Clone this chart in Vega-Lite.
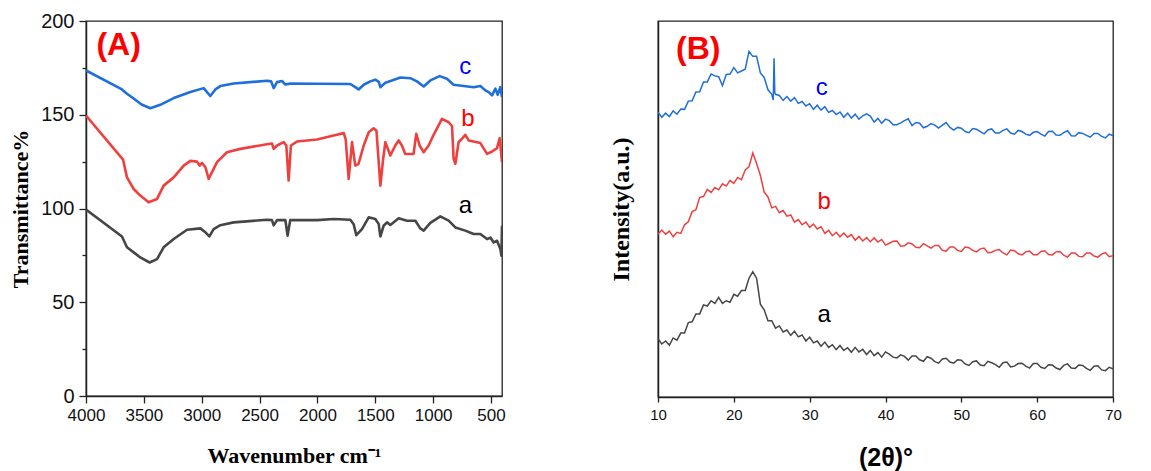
{
  "$schema": "https://vega.github.io/schema/vega-lite/v6.json",
  "background": "white",
  "padding": {"left": 8, "top": 10, "right": 5, "bottom": 5},
  "spacing": 102,
  "config": {
    "view": {"stroke": "#222", "strokeWidth": 1.3},
    "axis": {"grid": false, "domainColor": "#222", "domainWidth": 1.5, "tickColor": "#222", "tickWidth": 1.3, "labelColor": "#111", "titleColor": "#000", "labelOverlap": false, "labelFlush": false}
  },
  "datasets": {
    "ftir": [
      {"w":4000,"s":"c","T":173.6},{"w":3689,"s":"c","T":163.5},{"w":3646,"s":"c","T":161.2},{"w":3600,"s":"c","T":159.2},{"w":3520,"s":"c","T":155.5},{"w":3444,"s":"c","T":153.5},{"w":3358,"s":"c","T":155.3},{"w":3242,"s":"c","T":158.9},{"w":3098,"s":"c","T":162.1},{"w":2983,"s":"c","T":164.2},{"w":2926,"s":"c","T":160.0},{"w":2882,"s":"c","T":163.5},{"w":2839,"s":"c","T":165.3},{"w":2724,"s":"c","T":166.7},{"w":2436,"s":"c","T":168.1},{"w":2400,"s":"c","T":167.8},{"w":2378,"s":"c","T":164.2},{"w":2349,"s":"c","T":167.4},{"w":2306,"s":"c","T":168.0},{"w":2277,"s":"c","T":166.1},{"w":2235,"s":"c","T":166.6},{"w":2004,"s":"c","T":166.5},{"w":1716,"s":"c","T":166.4},{"w":1673,"s":"c","T":164.7},{"w":1644,"s":"c","T":163.5},{"w":1600,"s":"c","T":166.0},{"w":1543,"s":"c","T":167.8},{"w":1500,"s":"c","T":168.7},{"w":1470,"s":"c","T":167.5},{"w":1456,"s":"c","T":164.7},{"w":1413,"s":"c","T":167.1},{"w":1356,"s":"c","T":168.3},{"w":1284,"s":"c","T":169.9},{"w":1197,"s":"c","T":169.5},{"w":1140,"s":"c","T":167.8},{"w":1082,"s":"c","T":165.1},{"w":1024,"s":"c","T":168.3},{"w":944,"s":"c","T":170.6},{"w":881,"s":"c","T":169.2},{"w":823,"s":"c","T":166.0},{"w":736,"s":"c","T":165.3},{"w":650,"s":"c","T":164.7},{"w":592,"s":"c","T":165.3},{"w":549,"s":"c","T":163.0},{"w":520,"s":"c","T":162.1},{"w":491,"s":"c","T":160.3},{"w":462,"s":"c","T":163.9},{"w":442,"s":"c","T":160.7},{"w":419,"s":"c","T":164.7},{"w":405,"s":"c","T":159.4},
      {"w":4000,"s":"b","T":149.6},{"w":3680,"s":"b","T":126.1},{"w":3646,"s":"b","T":116.6},{"w":3588,"s":"b","T":110.4},{"w":3531,"s":"b","T":106.9},{"w":3459,"s":"b","T":103.3},{"w":3386,"s":"b","T":105.1},{"w":3329,"s":"b","T":112.2},{"w":3242,"s":"b","T":116.6},{"w":3156,"s":"b","T":122.9},{"w":3098,"s":"b","T":125.4},{"w":3041,"s":"b","T":125.0},{"w":3018,"s":"b","T":122.9},{"w":2997,"s":"b","T":124.3},{"w":2968,"s":"b","T":122.0},{"w":2940,"s":"b","T":115.8},{"w":2911,"s":"b","T":119.4},{"w":2868,"s":"b","T":124.7},{"w":2782,"s":"b","T":130.0},{"w":2666,"s":"b","T":131.8},{"w":2436,"s":"b","T":134.3},{"w":2393,"s":"b","T":134.7},{"w":2378,"s":"b","T":131.8},{"w":2349,"s":"b","T":133.6},{"w":2292,"s":"b","T":135.4},{"w":2269,"s":"b","T":133.6},{"w":2249,"s":"b","T":114.9},{"w":2229,"s":"b","T":133.6},{"w":2177,"s":"b","T":135.7},{"w":2004,"s":"b","T":136.8},{"w":1860,"s":"b","T":138.9},{"w":1773,"s":"b","T":140.2},{"w":1756,"s":"b","T":137.0},{"w":1730,"s":"b","T":115.8},{"w":1701,"s":"b","T":135.4},{"w":1673,"s":"b","T":122.9},{"w":1645,"s":"b","T":123.8},{"w":1600,"s":"b","T":133.6},{"w":1557,"s":"b","T":140.7},{"w":1514,"s":"b","T":142.8},{"w":1490,"s":"b","T":141.5},{"w":1456,"s":"b","T":112.2},{"w":1433,"s":"b","T":126.0},{"w":1413,"s":"b","T":135.4},{"w":1370,"s":"b","T":128.3},{"w":1327,"s":"b","T":133.6},{"w":1298,"s":"b","T":136.3},{"w":1270,"s":"b","T":133.6},{"w":1241,"s":"b","T":129.1},{"w":1169,"s":"b","T":129.1},{"w":1146,"s":"b","T":139.8},{"w":1117,"s":"b","T":133.6},{"w":1082,"s":"b","T":130.0},{"w":1039,"s":"b","T":133.6},{"w":996,"s":"b","T":139.3},{"w":924,"s":"b","T":147.8},{"w":866,"s":"b","T":146.0},{"w":837,"s":"b","T":144.0},{"w":823,"s":"b","T":126.5},{"w":808,"s":"b","T":123.8},{"w":780,"s":"b","T":135.4},{"w":751,"s":"b","T":137.2},{"w":722,"s":"b","T":139.3},{"w":693,"s":"b","T":136.3},{"w":650,"s":"b","T":135.7},{"w":592,"s":"b","T":134.9},{"w":534,"s":"b","T":129.1},{"w":491,"s":"b","T":130.4},{"w":448,"s":"b","T":132.2},{"w":425,"s":"b","T":137.5},{"w":405,"s":"b","T":124.7},
      {"w":4000,"s":"a","T":99.4},{"w":3689,"s":"a","T":85.1},{"w":3646,"s":"a","T":79.3},{"w":3588,"s":"a","T":76.6},{"w":3531,"s":"a","T":73.9},{"w":3450,"s":"a","T":71.2},{"w":3386,"s":"a","T":73.0},{"w":3329,"s":"a","T":79.3},{"w":3242,"s":"a","T":83.7},{"w":3127,"s":"a","T":88.7},{"w":3012,"s":"a","T":89.4},{"w":2968,"s":"a","T":87.3},{"w":2934,"s":"a","T":85.1},{"w":2897,"s":"a","T":89.0},{"w":2839,"s":"a","T":91.1},{"w":2724,"s":"a","T":92.6},{"w":2436,"s":"a","T":94.0},{"w":2393,"s":"a","T":93.8},{"w":2378,"s":"a","T":91.0},{"w":2349,"s":"a","T":93.8},{"w":2277,"s":"a","T":93.8},{"w":2258,"s":"a","T":85.5},{"w":2235,"s":"a","T":93.8},{"w":2004,"s":"a","T":93.8},{"w":1860,"s":"a","T":94.4},{"w":1716,"s":"a","T":94.0},{"w":1687,"s":"a","T":91.6},{"w":1664,"s":"a","T":85.8},{"w":1615,"s":"a","T":89.0},{"w":1557,"s":"a","T":95.3},{"w":1500,"s":"a","T":94.4},{"w":1471,"s":"a","T":91.8},{"w":1456,"s":"a","T":85.1},{"w":1428,"s":"a","T":90.8},{"w":1399,"s":"a","T":92.6},{"w":1370,"s":"a","T":91.2},{"w":1298,"s":"a","T":94.8},{"w":1226,"s":"a","T":93.5},{"w":1154,"s":"a","T":93.5},{"w":1111,"s":"a","T":89.4},{"w":1082,"s":"a","T":88.2},{"w":1024,"s":"a","T":92.3},{"w":938,"s":"a","T":95.8},{"w":866,"s":"a","T":93.5},{"w":808,"s":"a","T":89.9},{"w":722,"s":"a","T":88.2},{"w":650,"s":"a","T":86.4},{"w":592,"s":"a","T":86.4},{"w":534,"s":"a","T":83.7},{"w":505,"s":"a","T":84.5},{"w":477,"s":"a","T":81.9},{"w":448,"s":"a","T":82.8},{"w":419,"s":"a","T":78.4},{"w":410,"s":"a","T":74.8},{"w":405,"s":"a","T":90.8}
    ],
    "xrd": [
      {"t":10.0,"a":15.5,"b":43.3,"c":75.7},{"t":10.5,"a":14.1,"b":44.4,"c":74.4},{"t":11.0,"a":14.9,"b":43.3,"c":75.5},{"t":11.5,"a":13.8,"b":44.1,"c":74.6},{"t":12.0,"a":15.7,"b":42.6,"c":76.1},{"t":12.5,"a":15.1,"b":43.8,"c":75.2},{"t":13.0,"a":17.0,"b":43.5,"c":76.6},{"t":13.5,"a":17.0,"b":45.8,"c":76.5},{"t":14.0,"a":19.8,"b":46.6,"c":78.7},{"t":14.5,"a":20.0,"b":49.3,"c":78.8},
      {"t":15.0,"a":22.1,"b":49.8,"c":81.1},{"t":15.5,"a":22.1,"b":53.1,"c":81.2},{"t":16.0,"a":24.5,"b":53.3,"c":83.8},{"t":16.5,"a":24.2,"b":55.2,"c":83.8},{"t":17.0,"a":25.6,"b":54.4,"c":85.9},{"t":17.5,"a":24.9,"b":55.7,"c":85.4},{"t":18.0,"a":26.5,"b":55.1,"c":85.2},{"t":18.5,"a":24.9,"b":56.7,"c":82.8},{"t":19.0,"a":25.6,"b":56.1,"c":85.8},{"t":19.5,"a":25.2,"b":57.6,"c":85.9},
      {"t":20.0,"a":27.3,"b":56.8,"c":87.6},{"t":20.5,"a":26.8,"b":58.4,"c":86.2},{"t":21.0,"a":28.3,"b":57.8,"c":86.7},{"t":21.5,"a":28.3,"b":60.4,"c":87.2},{"t":22.0,"a":31.6,"b":61.2,"c":91.9},{"t":22.5,"a":33.3,"b":64.9,"c":90.6},{"t":23.0,"a":31.6,"b":62.1,"c":90.6},{"t":23.5,"a":24.7,"b":58.9,"c":86.2},{"t":24.0,"a":23.2,"b":54.5,"c":85.0},{"t":24.5,"a":20.3,"b":53.2,"c":81.7},
      {"t":25.0,"a":20.3,"b":50.3,"c":80.5},{"t":25.2,"c":79.0},{"t":25.3,"c":90.1},{"t":25.4,"c":81.0},{"t":25.5,"a":18.3,"b":50.7,"c":80.5},{"t":26.0,"a":18.9,"b":49.0,"c":80.2},{"t":26.5,"a":17.3,"b":49.6,"c":78.9},{"t":27.0,"a":17.8,"b":48.1,"c":79.9},{"t":27.5,"a":16.4,"b":48.4,"c":78.7},{"t":28.0,"a":17.5,"b":46.5,"c":79.6},{"t":28.5,"a":16.0,"b":47.2,"c":78.1},{"t":29.0,"a":16.5,"b":45.8,"c":78.6},{"t":29.5,"a":14.9,"b":46.5,"c":77.4},
      {"t":30.0,"a":15.9,"b":45.1,"c":78.0},{"t":30.5,"a":14.4,"b":46.0,"c":76.5},{"t":31.0,"a":14.9,"b":44.7,"c":77.6},{"t":31.5,"a":13.5,"b":45.3,"c":76.3},{"t":32.0,"a":14.6,"b":43.5,"c":77.2},{"t":32.5,"a":13.2,"b":44.3,"c":75.7},{"t":33.0,"a":13.9,"b":42.9,"c":76.2},{"t":33.5,"a":12.6,"b":43.8,"c":75.1},{"t":34.0,"a":13.7,"b":42.6,"c":75.8},{"t":34.5,"a":12.4,"b":43.6,"c":74.4},
      {"t":35.0,"a":13.1,"b":42.5,"c":75.5},{"t":35.5,"a":11.9,"b":43.2,"c":74.2},{"t":36.0,"a":13.2,"b":41.7,"c":75.2},{"t":36.5,"a":12.0,"b":42.7,"c":73.9},{"t":37.0,"a":12.7,"b":41.5,"c":74.8},{"t":37.5,"a":11.3,"b":42.4,"c":75.3},{"t":38.0,"a":12.4,"b":41.3,"c":74.7},{"t":38.5,"a":11.0,"b":42.3,"c":73.1},{"t":39.0,"a":11.8,"b":41.2,"c":74.1},{"t":39.5,"a":10.6,"b":41.9,"c":72.8},
      {"t":40,"a":12.0,"b":40.4,"c":73.9},{"t":40.5,"a":11.4,"b":40.9,"c":73.5},{"t":41,"a":10.6,"b":41.4,"c":72.4},{"t":41.5,"a":10.4,"b":41.5,"c":72.4},{"t":42,"a":11.2,"b":40.1,"c":72.9},{"t":42.5,"a":10.8,"b":40.2,"c":73.5},{"t":43,"a":9.8,"b":41.0,"c":74.0},{"t":43.5,"a":10.9,"b":40.7,"c":72.2},{"t":44,"a":10.9,"b":39.8,"c":73.0},{"t":44.5,"a":9.9,"b":39.7,"c":72.8},
      {"t":45,"a":9.5,"b":40.8,"c":71.6},{"t":45.5,"a":10.7,"b":40.2,"c":72.0},{"t":46,"a":10.3,"b":39.6,"c":72.7},{"t":46.5,"a":9.4,"b":40.3,"c":72.3},{"t":47,"a":9.0,"b":40.3,"c":71.5},{"t":47.5,"a":10.1,"b":39.0,"c":72.3},{"t":48,"a":10.3,"b":38.8,"c":73.0},{"t":48.5,"a":9.3,"b":39.9,"c":71.7},{"t":49,"a":9.0,"b":39.9,"c":71.0},{"t":49.5,"a":9.9,"b":39.0,"c":71.7},
      {"t":50,"a":9.8,"b":38.7,"c":71.5},{"t":50.5,"a":8.8,"b":39.9,"c":70.6},{"t":51,"a":8.4,"b":39.7,"c":70.3},{"t":51.5,"a":9.4,"b":39.0,"c":71.4},{"t":52,"a":9.6,"b":38.6,"c":71.2},{"t":52.5,"a":8.5,"b":39.4,"c":70.6},{"t":53,"a":8.3,"b":39.6,"c":70.0},{"t":53.5,"a":9.5,"b":38.4,"c":71.0},{"t":54,"a":9.1,"b":38.5,"c":71.3},{"t":54.5,"a":8.6,"b":39.0,"c":70.2},
      {"t":55,"a":7.9,"b":39.2,"c":70.2},{"t":55.5,"a":9.1,"b":38.3,"c":70.9},{"t":56,"a":9.3,"b":37.8,"c":71.3},{"t":56.5,"a":8.0,"b":39.1,"c":70.2},{"t":57,"a":8.2,"b":38.9,"c":69.9},{"t":57.5,"a":8.9,"b":38.1,"c":70.9},{"t":58,"a":9.0,"b":37.8,"c":70.6},{"t":58.5,"a":8.2,"b":38.6,"c":69.9},{"t":59,"a":7.7,"b":38.8,"c":69.6},{"t":59.5,"a":8.9,"b":37.8,"c":70.4},
      {"t":60,"a":8.9,"b":37.8,"c":70.6},{"t":60.5,"a":7.9,"b":38.7,"c":69.9},{"t":61,"a":7.6,"b":38.9,"c":69.4},{"t":61.5,"a":8.6,"b":37.9,"c":70.6},{"t":62,"a":8.5,"b":37.8,"c":70.7},{"t":62.5,"a":7.7,"b":38.6,"c":69.7},{"t":63,"a":7.3,"b":38.7,"c":69.6},{"t":63.5,"a":8.4,"b":37.7,"c":70.3},{"t":64,"a":8.8,"b":37.2,"c":70.8},{"t":64.5,"a":7.7,"b":38.3,"c":69.5},
      {"t":65,"a":7.6,"b":38.3,"c":69.4},{"t":65.5,"a":8.5,"b":37.4,"c":70.3},{"t":66,"a":8.4,"b":37.3,"c":70.1},{"t":66.5,"a":7.6,"b":38.3,"c":69.6},{"t":67,"a":7.1,"b":38.3,"c":69.1},{"t":67.5,"a":8.2,"b":37.5,"c":70.1},{"t":68,"a":8.3,"b":37.2,"c":70.1},{"t":68.5,"a":7.2,"b":38.0,"c":69.3},{"t":69,"a":7.0,"b":38.4,"c":68.9},{"t":69.5,"a":7.9,"b":37.3,"c":69.9},{"t":70,"a":7.5,"b":37.6,"c":69.5}
    ],
    "labA": [
      {"w":722,"T":175.4,"s":"c"},{"w":699,"T":147.8,"s":"b"},{"w":722,"T":101.5,"s":"a"}
    ],
    "titleA": [{"w":3718,"T":187,"txt":"(A)"}],
    "labB": [
      {"t":31.6,"v":82.1,"s":"c"},{"t":31.9,"v":51.8,"s":"b"},{"t":31.9,"v":21.8,"s":"a"}
    ],
    "titleB": [{"t":15.3,"v":92.6,"txt":"(B)"}]
  },
  "hconcat": [
    {
      "width": 416,
      "height": 375,
      "resolve": {"scale": {"color": "independent"}},
      "layer": [
        {
          "data": {"name": "ftir"},
          "mark": {"type": "line", "strokeWidth": 2.6, "clip": true, "strokeJoin": "round"},
          "encoding": {
            "x": {
              "field": "w", "type": "quantitative",
              "scale": {"domain": [4000, 405], "nice": false, "zero": false},
              "axis": {
                "values": [4000,3750,3500,3250,3000,2750,2500,2250,2000,1750,1500,1250,1000,750,500],
                "labelExpr": "datum.value % 500 === 0 ? datum.value : ''",
                "tickSize": {"condition": {"test": "datum.value % 500 === 0", "value": 7}, "value": 4},
                "labelFont": "Liberation Sans", "labelFontSize": 17, "labelPadding": 4,
                "title": "Wavenumber cm⁻¹", "titleFont": "Liberation Serif", "titleFontSize": 22, "titleFontWeight": "bold", "titlePadding": 22
              }
            },
            "y": {
              "field": "T", "type": "quantitative",
              "scale": {"domain": [0, 200], "nice": false},
              "axis": {
                "values": [0,25,50,75,100,125,150,175,200],
                "labelExpr": "datum.value % 50 === 0 ? datum.value : ''",
                "tickSize": {"condition": {"test": "datum.value % 50 === 0", "value": 7}, "value": 4},
                "labelFont": "Liberation Sans", "labelFontSize": 20, "labelPadding": 5,
                "title": "Transmittance%", "titleFont": "Liberation Serif", "titleFontSize": 22, "titleFontWeight": "bold", "titlePadding": 8
              }
            },
            "color": {"field": "s", "type": "nominal", "scale": {"domain": ["a","b","c"], "range": ["#464646","#ef4040","#1e6fdc"]}, "legend": null}
          }
        },
        {
          "data": {"name": "labA"},
          "mark": {"type": "text", "font": "Liberation Sans", "fontSize": 24, "align": "center", "baseline": "middle"},
          "encoding": {
            "x": {"field": "w", "type": "quantitative"},
            "y": {"field": "T", "type": "quantitative"},
            "text": {"field": "s"},
            "color": {"field": "s", "type": "nominal", "scale": {"domain": ["a","b","c"], "range": ["#000000","#ff0000","#0000ff"]}, "legend": null}
          }
        },
        {
          "data": {"name": "titleA"},
          "mark": {"type": "text", "font": "Liberation Sans", "fontSize": 32, "fontWeight": "bold", "color": "#ff0000", "align": "center", "baseline": "middle"},
          "encoding": {
            "x": {"field": "w", "type": "quantitative"},
            "y": {"field": "T", "type": "quantitative"},
            "text": {"field": "txt"}
          }
        }
      ]
    },
    {
      "width": 455,
      "height": 376,
      "resolve": {"scale": {"color": "independent"}},
      "layer": [
        {
          "data": {"name": "xrd"},
          "transform": [
            {"fold": ["a","b","c"], "as": ["s","v"]},
            {"filter": "isValid(datum.v)"}
          ],
          "mark": {"type": "line", "strokeWidth": 1.5, "clip": true},
          "encoding": {
            "x": {
              "field": "t", "type": "quantitative",
              "scale": {"domain": [10, 70], "nice": false, "zero": false},
              "axis": {
                "values": [10,15,20,25,30,35,40,45,50,55,60,65,70],
                "labelExpr": "datum.value % 10 === 0 ? datum.value : ''",
                "tickSize": {"condition": {"test": "datum.value % 10 === 0", "value": 5}, "value": 3},
                "labelFont": "Liberation Sans", "labelFontSize": 15, "labelPadding": 5,
                "title": "(2θ)°", "titleFont": "Liberation Sans", "titleFontSize": 25, "titleFontWeight": "bold", "titlePadding": 23
              }
            },
            "y": {
              "field": "v", "type": "quantitative",
              "scale": {"domain": [0, 100], "nice": false},
              "axis": {
                "ticks": false, "labels": false,
                "title": "Intensity(a.u.)", "titleFont": "Liberation Serif", "titleFontSize": 24, "titleFontWeight": "bold", "titlePadding": 25
              }
            },
            "color": {"field": "s", "type": "nominal", "scale": {"domain": ["a","b","c"], "range": ["#464646","#ef4040","#1e6fdc"]}, "legend": null}
          }
        },
        {
          "data": {"name": "labB"},
          "mark": {"type": "text", "font": "Liberation Sans", "fontSize": 24, "align": "center", "baseline": "middle"},
          "encoding": {
            "x": {"field": "t", "type": "quantitative"},
            "y": {"field": "v", "type": "quantitative"},
            "text": {"field": "s"},
            "color": {"field": "s", "type": "nominal", "scale": {"domain": ["a","b","c"], "range": ["#000000","#ff0000","#0000ff"]}, "legend": null}
          }
        },
        {
          "data": {"name": "titleB"},
          "mark": {"type": "text", "font": "Liberation Sans", "fontSize": 32, "fontWeight": "bold", "color": "#ff0000", "align": "center", "baseline": "middle"},
          "encoding": {
            "x": {"field": "t", "type": "quantitative"},
            "y": {"field": "v", "type": "quantitative"},
            "text": {"field": "txt"}
          }
        }
      ]
    }
  ]
}
